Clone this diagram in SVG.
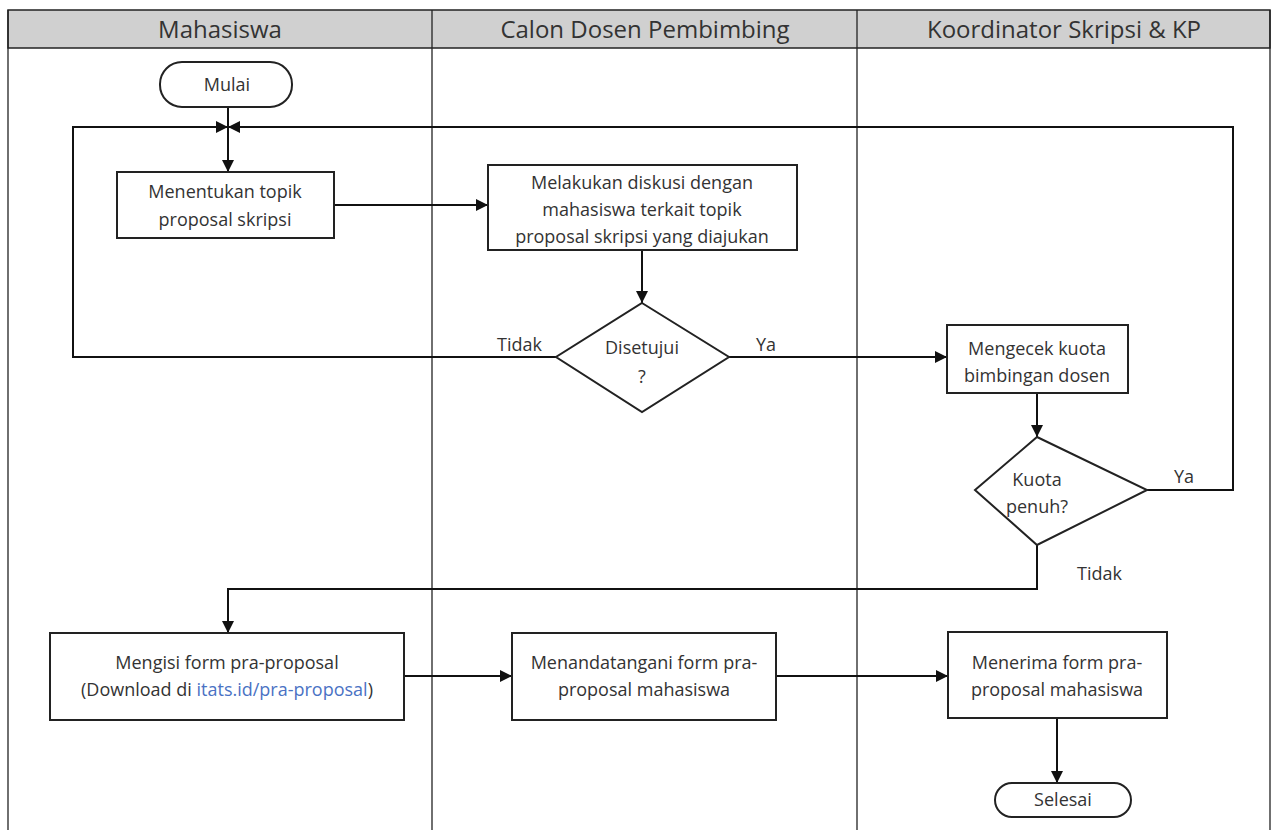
<svg xmlns="http://www.w3.org/2000/svg" width="1271" height="830" viewBox="0 0 1271 830">
<style>
.lane{fill:none;stroke:#222;stroke-width:1.3}
.hdr{fill:#d0d0d0;stroke:#222;stroke-width:1.5}
.ht{font-family:"Open Sans",sans-serif;font-size:24px;fill:#333;text-anchor:middle}
.shape{fill:#fff;stroke:#222;stroke-width:2}
.t{font-family:"Open Sans",sans-serif;font-size:18px;fill:#333;text-anchor:middle}
.lbl{font-family:"Open Sans",sans-serif;font-size:18px;fill:#333}
.c{fill:none;stroke:#111;stroke-width:2}
.link{fill:#4a72c4}
</style>
<defs>
<marker id="ah" viewBox="0 0 12 12" refX="12" refY="6" markerWidth="12" markerHeight="12" markerUnits="userSpaceOnUse" orient="auto">
<path d="M0,0 L12,6 L0,12 Z" fill="#111"/>
</marker>
</defs>
<rect width="1271" height="830" fill="#fff"/>
<g id="lanes">
<rect class="hdr" x="8" y="10" width="1262" height="38"/>
<line class="lane" x1="8" y1="10" x2="8" y2="830"/>
<line class="lane" x1="432" y1="10" x2="432" y2="830"/>
<line class="lane" x1="857" y1="10" x2="857" y2="830"/>
<line class="lane" x1="1270" y1="10" x2="1270" y2="830"/>
<text class="ht" x="220" y="38">Mahasiswa</text>
<text class="ht" x="645" y="38">Calon Dosen Pembimbing</text>
<text class="ht" x="1064" y="38">Koordinator Skripsi &amp; KP</text>
</g>
<g id="connectors">
<path class="c" d="M228,107 V172" marker-end="url(#ah)"/>
<path class="c" d="M556,357 H73 V127 H228" marker-end="url(#ah)"/>
<path class="c" d="M1147,490 H1233 V127 H228" marker-end="url(#ah)"/>
<path class="c" d="M334,205 H488" marker-end="url(#ah)"/>
<path class="c" d="M642,250 V303" marker-end="url(#ah)"/>
<path class="c" d="M729,357 H947" marker-end="url(#ah)"/>
<path class="c" d="M1037,393 V437" marker-end="url(#ah)"/>
<path class="c" d="M1037,545 V589 H228 V633" marker-end="url(#ah)"/>
<path class="c" d="M404,676 H512" marker-end="url(#ah)"/>
<path class="c" d="M776,676 H948" marker-end="url(#ah)"/>
<path class="c" d="M1057,718 V783" marker-end="url(#ah)"/>
<text class="lbl" x="497" y="351">Tidak</text>
<text class="lbl" x="756" y="351">Ya</text>
<text class="lbl" x="1174" y="483">Ya</text>
<text class="lbl" x="1077" y="580">Tidak</text>
</g>
<g id="mulai">
<rect class="shape" x="160" y="62" width="132" height="45" rx="22"/>
<text class="t" x="227" y="91">Mulai</text>
</g>
<g id="menentukan">
<rect class="shape" x="117" y="172" width="217" height="66"/>
<text class="t" x="225" y="198">Menentukan topik</text>
<text class="t" x="225" y="226">proposal skripsi</text>
</g>
<g id="diskusi">
<rect class="shape" x="488" y="165" width="309" height="85"/>
<text class="t" x="642" y="189">Melakukan diskusi dengan</text>
<text class="t" x="642" y="216">mahasiswa terkait topik</text>
<text class="t" x="642" y="243">proposal skripsi yang diajukan</text>
</g>
<g id="disetujui">
<polygon class="shape" points="642,303 729,357 642,412 556,357"/>
<text class="t" x="642" y="354">Disetujui</text>
<text class="t" x="642" y="383">?</text>
</g>
<g id="mengecek">
<rect class="shape" x="947" y="325" width="181" height="68"/>
<text class="t" x="1037" y="355">Mengecek kuota</text>
<text class="t" x="1037" y="382">bimbingan dosen</text>
</g>
<g id="kuota">
<polygon class="shape" points="1037,437 1147,490 1037,545 975,490"/>
<text class="t" x="1037" y="486">Kuota</text>
<text class="t" x="1037" y="513">penuh?</text>
</g>
<g id="mengisi">
<rect class="shape" x="50" y="633" width="354" height="87"/>
<text class="t" x="227" y="669">Mengisi form pra-proposal</text>
<text class="t" x="227" y="696">(Download di <tspan class="link">itats.id/pra-proposal</tspan>)</text>
</g>
<g id="menandatangani">
<rect class="shape" x="512" y="633" width="264" height="87"/>
<text class="t" x="644" y="669">Menandatangani form pra-</text>
<text class="t" x="644" y="696">proposal mahasiswa</text>
</g>
<g id="menerima">
<rect class="shape" x="948" y="632" width="219" height="86"/>
<text class="t" x="1057" y="669">Menerima form pra-</text>
<text class="t" x="1057" y="696">proposal mahasiswa</text>
</g>
<g id="selesai">
<rect class="shape" x="995" y="783" width="136" height="34" rx="17"/>
<text class="t" x="1063" y="806">Selesai</text>
</g>
</svg>
